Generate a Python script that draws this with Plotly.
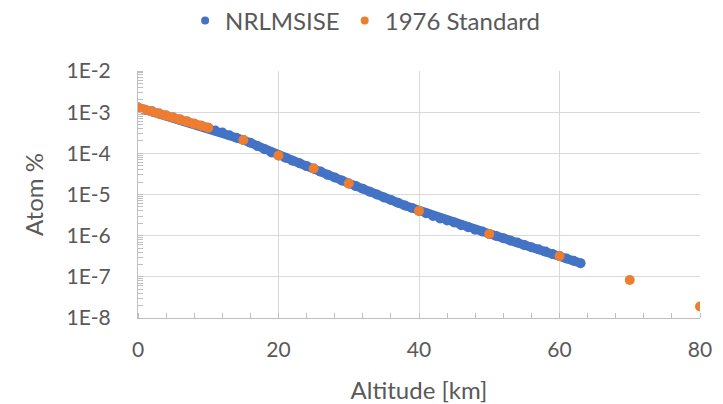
import plotly.graph_objects as go

# Altitude grid (km) and atom fraction for the NRLMSISE model
nrl_alt = list(range(0, 64))
nrl_atom = [
    1.29e-3, 1.15e-3, 1.05e-3, 9.3e-4, 8.3e-4, 7.4e-4, 6.6e-4, 5.9e-4, 5.25e-4, 4.7e-4,
    4.2e-4, 3.6e-4, 3.2e-4, 2.75e-4, 2.4e-4, 2.1e-4, 1.8e-4, 1.5e-4, 1.26e-4, 1.05e-4,
    8.9e-5, 7.8e-5, 6.6e-5, 5.75e-5, 4.9e-5, 4.3e-5, 3.6e-5, 3.0e-5, 2.6e-5, 2.2e-5,
    1.85e-5, 1.6e-5, 1.38e-5, 1.17e-5, 1.0e-5, 8.5e-6, 7.4e-6, 6.3e-6, 5.4e-6, 4.7e-6,
    4.0e-6, 3.5e-6, 3.0e-6, 2.6e-6, 2.35e-6, 2.1e-6, 1.8e-6, 1.6e-6, 1.4e-6, 1.26e-6,
    1.1e-6, 9.8e-7, 8.7e-7, 7.6e-7, 6.8e-7, 5.9e-7, 5.25e-7, 4.7e-7, 4.1e-7, 3.6e-7,
    3.2e-7, 2.8e-7, 2.45e-7, 2.15e-7,
]

# 1976 Standard Atmosphere: finely tabulated lower layer (0-10 km)
std_low_alt = [0, 1, 2, 3, 4, 5, 6, 7, 8, 9, 10]
std_low_atom = [
    1.29e-3, 1.15e-3, 1.04e-3, 9.3e-4, 8.3e-4, 7.4e-4, 6.6e-4, 5.9e-4, 5.2e-4, 4.7e-4,
    4.2e-4,
]
# 1976 Standard Atmosphere: coarse points above 10 km
std_high_alt = [15, 20, 25, 30, 40, 50, 60, 70, 80]
std_high_atom = [2.1e-4, 8.9e-5, 4.3e-5, 1.85e-5, 4.0e-6, 1.1e-6, 3.2e-7, 8.4e-8, 1.9e-8]

y_tickvals = [1e-2, 1e-3, 1e-4, 1e-5, 1e-6, 1e-7, 1e-8]
y_ticktext = ["1E-2", "1E-3", "1E-4", "1E-5", "1E-6", "1E-7", "1E-8"]
x_tickvals = [0, 20, 40, 60, 80]

BLUE = "#4472C4"
ORANGE = "#ED7D31"
TEXT = "#595959"
GRID = "#D9D9D9"
AXIS = "#BFBFBF"
FONT = "Lato"
MSIZE = 10

fig = go.Figure()
# dense model profile drawn as a solid band of markers
fig.add_trace(go.Scatter(
    x=nrl_alt, y=nrl_atom, mode="lines+markers", showlegend=False,
    legendgroup="nrl",
    line=dict(color=BLUE, width=MSIZE - 1),
    marker=dict(color=BLUE, size=MSIZE, line=dict(width=0)),
))
fig.add_trace(go.Scatter(
    x=std_low_alt, y=std_low_atom, mode="lines+markers", showlegend=False,
    legendgroup="std",
    line=dict(color=ORANGE, width=MSIZE - 1),
    marker=dict(color=ORANGE, size=MSIZE, line=dict(width=0)),
))
fig.add_trace(go.Scatter(
    x=std_high_alt, y=std_high_atom, mode="markers", showlegend=False,
    legendgroup="std",
    marker=dict(color=ORANGE, size=MSIZE, line=dict(width=0)),
))
# legend entries (small round markers)
fig.add_trace(go.Scatter(
    x=[None], y=[None], mode="markers", name="NRLMSISE", legendgroup="nrl",
    marker=dict(color=BLUE, size=8),
))
fig.add_trace(go.Scatter(
    x=[None], y=[None], mode="markers", name="1976 Standard", legendgroup="std",
    marker=dict(color=ORANGE, size=8),
))

fig.update_layout(
    width=723, height=404,
    margin=dict(l=138, r=23, t=71, b=86),
    paper_bgcolor="white", plot_bgcolor="white",
    font=dict(family=FONT, color=TEXT, size=21),
    showlegend=True,
    legend=dict(
        orientation="h", x=0.505, xref="container", xanchor="center",
        y=1 - 21 / 404, yref="container", yanchor="middle",
        font=dict(size=24, color=TEXT), itemclick=False, itemdoubleclick=False,
    ),
)

fig.update_xaxes(
    range=[0, 80], tickvals=x_tickvals, ticks="", automargin=False,
    showgrid=True, gridcolor=GRID, gridwidth=1,
    showline=True, linecolor=AXIS, linewidth=1, zeroline=False,
    minor=dict(dtick=4, ticks="inside", ticklen=5, tickcolor=AXIS, showgrid=False),
    tickfont=dict(size=21, color=TEXT), ticklabelstandoff=13,
    title=dict(text="Altitude [km]", font=dict(size=24, color=TEXT), standoff=21),
)
fig.update_yaxes(
    type="log", range=[-8, -2], tickmode="array", automargin=False,
    tickvals=y_tickvals, ticktext=y_ticktext, ticks="",
    showgrid=True, gridcolor=GRID, gridwidth=1,
    showline=True, linecolor=AXIS, linewidth=1, zeroline=False,
    minor=dict(dtick="D1", ticks="inside", ticklen=5, tickcolor=AXIS, showgrid=False),
    tickfont=dict(size=21, color=TEXT), ticklabelstandoff=22,
    title=dict(text="Atom %", font=dict(size=24, color=TEXT), standoff=16),
)

fig.write_html("out.html")
